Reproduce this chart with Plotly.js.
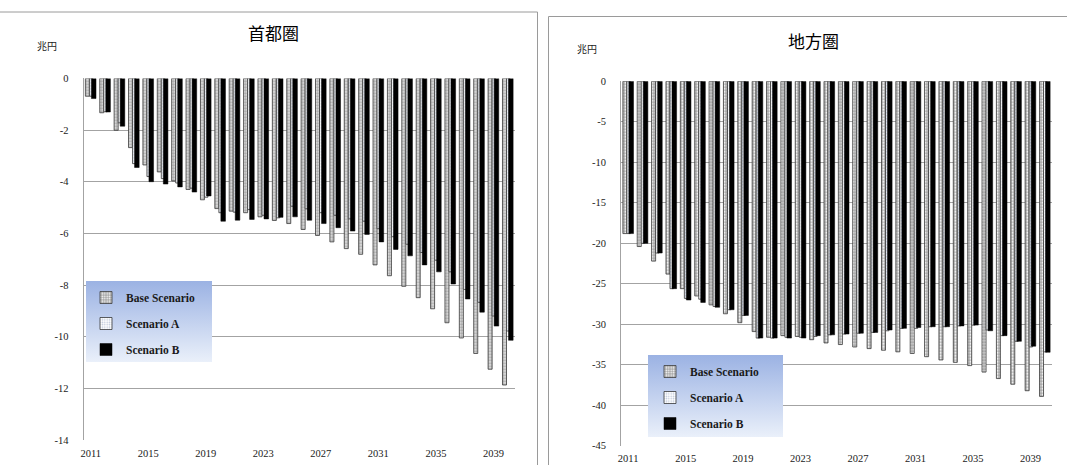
<!DOCTYPE html>
<html>
<head>
<meta charset="utf-8">
<script src="https://cdn.plot.ly/plotly-3.0.1.min.js"></script>
<style>
  html, body { margin: 0; padding: 0; background: #ffffff; }
  #chart { width: 1067px; height: 465px; }
</style>
</head>
<body>
<div id="chart"></div>
<script>
// Fiscal balance by fiscal year, trillion yen (兆円)
const years = [2011, 2012, 2013, 2014, 2015, 2016, 2017, 2018, 2019, 2020,
               2021, 2022, 2023, 2024, 2025, 2026, 2027, 2028, 2029, 2030,
               2031, 2032, 2033, 2034, 2035, 2036, 2037, 2038, 2039, 2040];

const seriesNames = ['Base Scenario', 'Scenario A', 'Scenario B'];

// 首都圏
const capitalBase = [-0.69, -1.33, -2.01, -2.68, -3.35, -3.62, -3.97, -4.30, -4.70, -5.04,
                     -5.14, -5.20, -5.36, -5.50, -5.62, -5.85, -6.08, -6.33, -6.59, -6.81,
                     -7.22, -7.64, -8.05, -8.49, -8.92, -9.46, -10.05, -10.65, -11.26, -11.87];
const capitalA    = [-0.69, -1.29, -1.72, -3.30, -3.80, -3.88, -4.05, -4.25, -4.60, -5.20,
                     -5.18, -5.08, -5.30, -5.40, -4.95, -5.05, -5.20, -5.30, -5.44, -5.53,
                     -5.82, -6.13, -6.42, -6.74, -7.04, -7.49, -8.17, -8.67, -9.20, -9.78];
const capitalB    = [-0.78, -1.30, -1.85, -3.45, -4.00, -4.09, -4.20, -4.40, -4.55, -5.53,
                     -5.49, -5.46, -5.44, -5.38, -5.36, -5.49, -5.62, -5.78, -5.91, -6.04,
                     -6.33, -6.62, -6.87, -7.22, -7.49, -7.96, -8.54, -9.05, -9.59, -10.14];

// 地方圏
const regionalBase = [-18.8, -20.4, -22.2, -23.8, -25.6, -26.5, -27.6, -28.7, -29.8, -30.9,
                      -31.6, -31.4, -31.5, -31.9, -32.3, -32.5, -32.8, -33.0, -33.2, -33.4,
                      -33.6, -34.0, -34.4, -34.7, -35.1, -35.9, -36.7, -37.4, -38.2, -38.9];
const regionalA    = [-18.8, -20.0, -21.2, -25.6, -26.8, -26.9, -27.8, -28.2, -28.9, -31.7,
                      -31.7, -31.6, -31.6, -31.5, -31.3, -31.2, -31.1, -31.0, -30.8, -30.5,
                      -30.5, -30.3, -30.3, -30.2, -30.1, -30.7, -31.4, -32.1, -32.8, -33.4];
const regionalB    = [-18.8, -20.0, -21.2, -25.6, -27.0, -27.3, -27.9, -28.2, -28.9, -31.7,
                      -31.7, -31.7, -31.7, -31.4, -31.3, -31.2, -31.1, -31.0, -30.7, -30.5,
                      -30.4, -30.3, -30.3, -30.2, -30.1, -30.8, -31.4, -32.1, -32.7, -33.45];

const yearTickVals = [2011, 2015, 2019, 2023, 2027, 2031, 2035, 2039];
const yearTickText = ['2011', '2015', '2019', '2023', '2027', '2031', '2035', '2039'];
const capitalTickVals = [0, -2, -4, -6, -8, -10, -12, -14];
const capitalTickText = ['0', '-2', '-4', '-6', '-8', '-10', '-12', '-14'];
const regionalTickVals = [0, -5, -10, -15, -20, -25, -30, -35, -40, -45];
const regionalTickText = ['0', '-5', '-10', '-15', '-20', '-25', '-30', '-35', '-40', '-45'];

// page geometry helpers (pixels -> paper fraction)
const W = 1067, H = 465;
const px = v => v / W;
const py = v => 1 - v / H;

const serif = 'Liberation Serif, Times New Roman, serif';
const cjk = 'Noto Sans CJK JP, sans-serif';

// bar styles: Base (grey dotted), A (white dotted), B (solid black)
const styles = [
  { offset: -0.37, width: 0.28,
    marker: { color: '#a6a6a6', line: { color: '#3a3a3a', width: 0.8 },
              pattern: { shape: '.', bgcolor: '#a6a6a6', fgcolor: '#ffffff', size: 3, solidity: 0.35, fillmode: 'replace' } } },
  { offset: -0.09, width: 0.24,
    marker: { color: '#ffffff', line: { color: '#3a3a3a', width: 0.8 },
              pattern: { shape: '.', bgcolor: '#ffffff', fgcolor: '#b9c3d8', size: 3, solidity: 0.3, fillmode: 'replace' } } },
  { offset: 0.05, width: 0.32,
    marker: { color: '#000000', line: { color: '#000000', width: 0.5 } } }
];

function makeTraces(values, xa, ya, legendId, tag) {
  return values.map((vals, i) => ({
    type: 'bar',
    x: years,
    y: vals,
    name: seriesNames[i],
    xaxis: xa,
    yaxis: ya,
    legend: legendId,
    legendgroup: tag + i,
    offset: styles[i].offset,
    width: styles[i].width,
    marker: styles[i].marker,
    hoverinfo: 'skip'
  }));
}

const traces = [
  ...makeTraces([capitalBase, capitalA, capitalB], 'x', 'y', 'legend', 'cap'),
  ...makeTraces([regionalBase, regionalA, regionalB], 'x2', 'y2', 'legend2', 'reg')
];

const gridColor = '#a3a3a3';

function xAxis(left, right, anchor) {
  return {
    domain: [px(left), px(right)],
    anchor: anchor,
    range: [2010.5, 2040.5],
    tickmode: 'array',
    tickvals: yearTickVals,
    ticktext: yearTickText,
    ticks: '',
    ticklabelstandoff: 5,
    showgrid: false,
    zeroline: false,
    showline: false,
    tickfont: { family: serif, size: 10.5, color: '#1a1a1a' }
  };
}

function yAxis(top, bottom, anchor, lo, vals, text) {
  return {
    domain: [py(bottom), py(top)],
    anchor: anchor,
    range: [lo, 0],
    tickmode: 'array',
    tickvals: vals,
    ticktext: text,
    ticks: '',
    ticklabelstandoff: 12,
    showgrid: true,
    gridcolor: gridColor,
    gridwidth: 1,
    zeroline: false,
    showline: true,
    linecolor: gridColor,
    linewidth: 1,
    tickfont: { family: serif, size: 10.5, color: '#1a1a1a' }
  };
}

function gradientBox(x, y, w, h) {
  const svg = '<svg xmlns="http://www.w3.org/2000/svg" width="100" height="100" preserveAspectRatio="none">' +
    '<defs><linearGradient id="g" x1="0" y1="0" x2="0" y2="1">' +
    '<stop offset="0" stop-color="#9bb2e3"/><stop offset="1" stop-color="#eaf0fa"/>' +
    '</linearGradient></defs><rect width="100" height="100" fill="url(#g)"/></svg>';
  return {
    source: 'data:image/svg+xml;charset=utf-8,' + encodeURIComponent(svg),
    xref: 'paper', yref: 'paper',
    x: px(x), y: py(y), sizex: w / W, sizey: h / H,
    xanchor: 'left', yanchor: 'top',
    sizing: 'stretch', layer: 'above'
  };
}

function legendBox(x, y) {
  return {
    x: px(x), y: py(y), xanchor: 'left', yanchor: 'top',
    bgcolor: 'rgba(0,0,0,0)', borderwidth: 0,
    traceorder: 'grouped', tracegroupgap: 7, itemwidth: 30,
    font: { family: serif, size: 11.5, color: '#1a1a1a', weight: 'bold' }
  };
}

const layout = {
  width: W,
  height: H,
  margin: { l: 0, r: 0, t: 0, b: 0 },
  paper_bgcolor: '#ffffff',
  plot_bgcolor: 'rgba(0,0,0,0)',
  barmode: 'overlay',
  showlegend: true,
  xaxis: xAxis(83.5, 515, 'y'),
  yaxis: yAxis(78.4, 440, 'x', -14, capitalTickVals, capitalTickText),
  xaxis2: xAxis(621, 1052, 'y2'),
  yaxis2: yAxis(81.3, 445.8, 'x2', -45, regionalTickVals, regionalTickText),
  legend: legendBox(86, 283),
  legend2: legendBox(650, 357),
  images: [gradientBox(86, 281, 126, 81), gradientBox(648, 355, 135, 82)],
  shapes: [
    { type: 'rect', xref: 'paper', yref: 'paper', x0: px(-5), x1: px(537.5), y0: py(12), y1: py(480),
      line: { color: '#9a9a9a', width: 1 }, fillcolor: 'rgba(0,0,0,0)', layer: 'below' },
    { type: 'rect', xref: 'paper', yref: 'paper', x0: px(548.5), x1: px(1080), y0: py(16.5), y1: py(480),
      line: { color: '#9a9a9a', width: 1 }, fillcolor: 'rgba(0,0,0,0)', layer: 'below' }
  ],
  annotations: [
    { text: '首都圏', xref: 'paper', yref: 'paper', x: px(273), y: py(33), xanchor: 'center', yanchor: 'middle',
      showarrow: false, font: { family: cjk, size: 17, color: '#000000' } },
    { text: '地方圏', xref: 'paper', yref: 'paper', x: px(813), y: py(40), xanchor: 'center', yanchor: 'middle',
      showarrow: false, font: { family: cjk, size: 17, color: '#000000' } },
    { text: '兆円', xref: 'paper', yref: 'paper', x: px(47), y: py(46), xanchor: 'center', yanchor: 'middle',
      showarrow: false, font: { family: cjk, size: 10, color: '#1a1a1a' } },
    { text: '兆円', xref: 'paper', yref: 'paper', x: px(587), y: py(49), xanchor: 'center', yanchor: 'middle',
      showarrow: false, font: { family: cjk, size: 10, color: '#1a1a1a' } }
  ]
};

Plotly.newPlot('chart', traces, layout, { staticPlot: true, displayModeBar: false });
</script>
</body>
</html>
